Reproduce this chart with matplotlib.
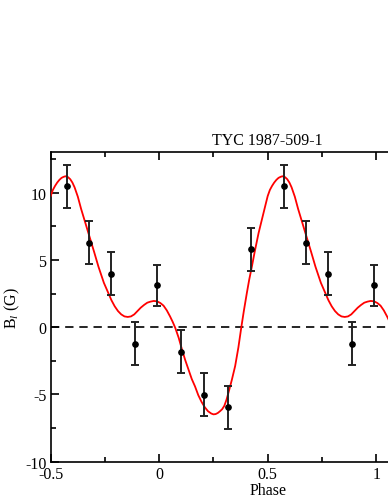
import numpy as np
import matplotlib
matplotlib.use("Agg")
import matplotlib.pyplot as plt
from matplotlib.ticker import MultipleLocator

plt.rcParams['font.family'] = ['Liberation Serif', 'DejaVu Serif']
plt.rcParams['mathtext.fontset'] = 'custom'
plt.rcParams['mathtext.rm'] = 'Liberation Serif'
plt.rcParams['mathtext.it'] = 'Liberation Serif:italic'

# Observations (one cycle; repeated at +1 in phase)
phase = [-0.426, -0.325, -0.222, -0.113, -0.010, 0.100, 0.206, 0.318, 0.424]
bl = [10.47, 6.29, 3.96, -1.23, 3.10, -1.83, -5.02, -5.94, 5.79]
bl_err = [1.6, 1.6, 1.6, 1.6, 1.5, 1.6, 1.6, 1.6, 1.6]

# Fitted curve (one cycle)
curve_phase = [-0.50, -0.49, -0.48, -0.47, -0.46, -0.45, -0.44, -0.432, -0.42, -0.41,
               -0.40, -0.39, -0.375, -0.36, -0.345, -0.33, -0.315, -0.30, -0.28, -0.255,
               -0.235, -0.22, -0.205, -0.19, -0.175, -0.16, -0.145, -0.13, -0.115, -0.10,
               -0.085, -0.07, -0.055, -0.04, -0.025, -0.01, 0.005, 0.02, 0.035, 0.05,
               0.062, 0.074, 0.09, 0.105, 0.12, 0.135, 0.15, 0.165, 0.18, 0.195,
               0.21, 0.225, 0.24, 0.25, 0.26, 0.27, 0.28, 0.29, 0.30, 0.31,
               0.32, 0.335, 0.35, 0.365, 0.378, 0.39, 0.404, 0.415, 0.427, 0.44,
               0.458, 0.47, 0.48, 0.49, 0.50]
curve_bl = [9.75, 10.2, 10.5, 10.75, 10.95, 11.1, 11.18, 11.22, 11.15, 11.0,
            10.75, 10.4, 9.7, 8.8, 8.0, 7.2, 6.4, 5.6, 4.5, 3.3,
            2.55, 2.0, 1.55, 1.2, 0.95, 0.8, 0.76, 0.8, 0.95, 1.2,
            1.45, 1.65, 1.82, 1.9, 1.95, 1.92, 1.8, 1.6, 1.25, 0.8,
            0.4, -0.05, -0.8, -1.66, -2.45, -3.15, -3.85, -4.4, -5.05, -5.55,
            -5.95, -6.25, -6.42, -6.48, -6.46, -6.38, -6.25, -6.1, -5.85, -5.4,
            -4.82, -3.9, -2.89, -1.5, -0.05, 1.2, 2.55, 3.55, 4.5, 5.6,
            7.0, 7.8, 8.5, 9.1, 9.75]

title = "TYC 1987-509-1"
xlim = (-0.5, 1.5)
ylim = (-10, 13)

fig = plt.figure(figsize=(3.88, 5.02), dpi=100)
ax = fig.add_axes([50.7/388, 1-462.7/502, 434/388, 309.4/502])

ph = np.array(phase)
cp = np.array(curve_phase)
cb = np.array(curve_bl)
ax.plot(np.concatenate([cp, cp[1:] + 1]), np.concatenate([cb, cb[1:]]),
        color='red', lw=1.3, zorder=3)
ax.axhline(0, color='black', lw=1.2, ls=(0, (5, 3.5)), zorder=1)
for shift in (0, 1):
    ax.errorbar(ph + shift, bl, yerr=bl_err, fmt='o', color='black', ecolor='#222222',
                ms=3.8, elinewidth=1.4, capsize=3.2, capthick=1.4, zorder=4)

ax.set_xlim(*xlim)
ax.set_ylim(*ylim)
ax.xaxis.set_minor_locator(MultipleLocator(0.25))
ax.yaxis.set_minor_locator(MultipleLocator(2.5))
ax.set_xticks([-0.5, 0, 0.5, 1, 1.5])
ax.set_xticklabels(['-0.5', '0', '0.5', '1', ''])
ax.set_yticks([-10, -5, 0, 5, 10])
ax.set_yticklabels(['-10', '-5', '0', '5', '10'])
ax.tick_params(which='both', direction='in', top=True, right=True, width=1.2,
               labelsize=11.5, colors='black')
ax.tick_params(which='major', length=6, pad=3)
ax.tick_params(which='minor', length=3.5)
for s in ax.spines.values():
    s.set_linewidth(1.2)

ax.set_title(title, fontsize=11.5, pad=6)
ax.set_xlabel('Phase', fontsize=11.5, labelpad=0)
ax.set_ylabel(r'B$_{\mathit{l}}$ (G)', fontsize=11.5, labelpad=2)

fig.savefig('out.png', dpi=100)
